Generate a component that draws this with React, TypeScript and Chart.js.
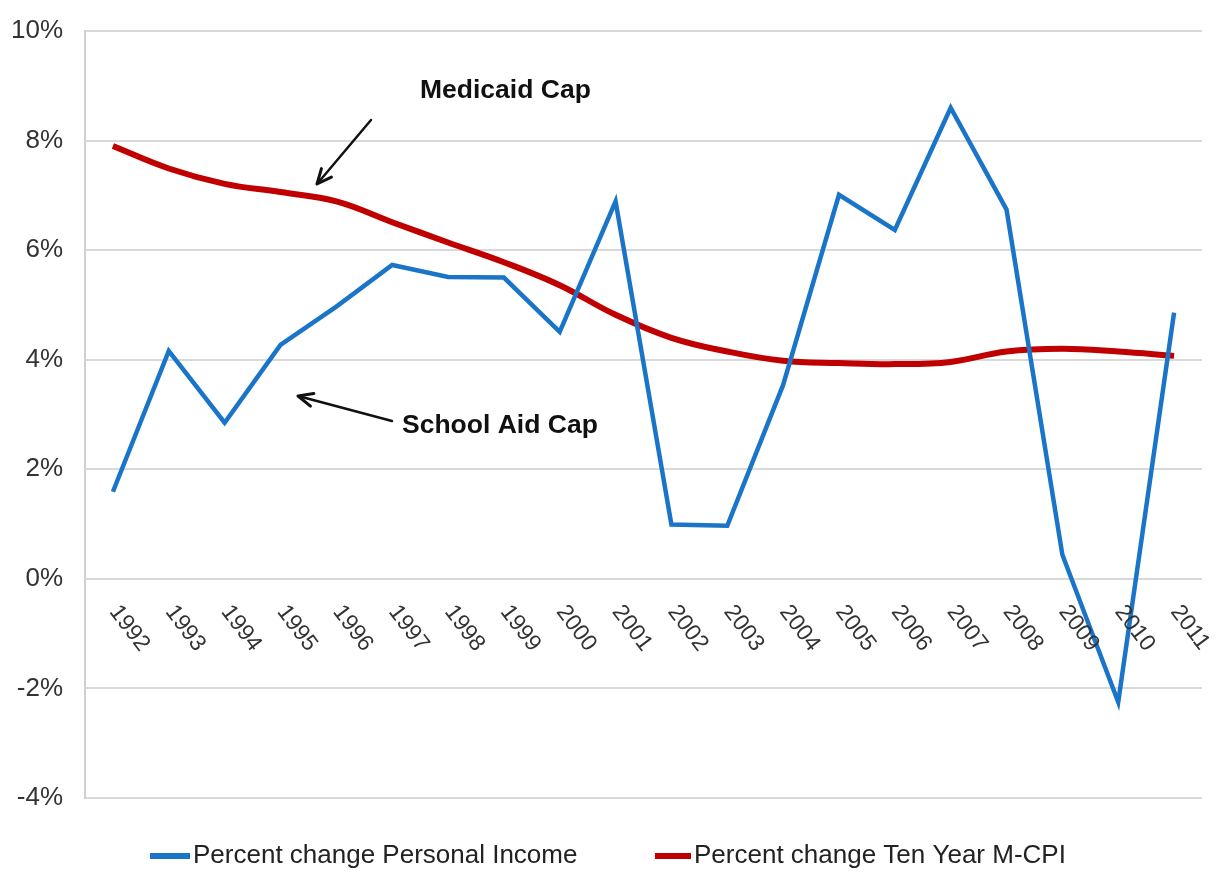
import React, { useEffect, useRef } from "react";
import { Chart, registerables } from "chart.js";

Chart.register(...registerables);

const years = ["1992","1993","1994","1995","1996","1997","1998","1999","2000","2001","2002","2003","2004","2005","2006","2007","2008","2009","2010","2011"];
const personalIncome = [1.59, 4.16, 2.85, 4.27, 4.97, 5.73, 5.51, 5.5, 4.51, 6.89, 0.99, 0.97, 3.54, 7.01, 6.37, 8.6, 6.74, 0.44, -2.25, 4.86];
const mcpi = [7.9, 7.49, 7.21, 7.06, 6.89, 6.51, 6.14, 5.78, 5.36, 4.82, 4.4, 4.15, 3.98, 3.94, 3.92, 3.96, 4.15, 4.2, 4.15, 4.07];
const yTicks = [-4, -2, 0, 2, 4, 6, 8, 10];
const seriesNames = ["Percent change Personal Income", "Percent change Ten Year M-CPI"];
const seriesColors = ["#1a75c9", "#c00000"];
const annotations = ["Medicaid Cap", "School Aid Cap"];

const FONT = "'Liberation Sans', Arial, sans-serif";

function arrow(ctx: CanvasRenderingContext2D, x1: number, y1: number, x2: number, y2: number) {
  const ang = Math.atan2(y2 - y1, x2 - x1);
  ctx.save();
  ctx.strokeStyle = "#111";
  ctx.fillStyle = "#111";
  ctx.lineWidth = 2.5;
  ctx.lineCap = "round";
  ctx.beginPath();
  ctx.moveTo(x1, y1);
  ctx.lineTo(x2 - Math.cos(ang) * 4, y2 - Math.sin(ang) * 4);
  ctx.stroke();
  const L = 16, W = 0.42;
  ctx.beginPath();
  ctx.moveTo(x2, y2);
  ctx.lineTo(x2 - L * Math.cos(ang - W), y2 - L * Math.sin(ang - W));
  ctx.moveTo(x2, y2);
  ctx.lineTo(x2 - L * Math.cos(ang + W), y2 - L * Math.sin(ang + W));
  ctx.lineWidth = 3;
  ctx.stroke();
  ctx.restore();
}

const overlay = {
  id: "overlay",
  afterDraw(chart: any) {
    const ctx: CanvasRenderingContext2D = chart.ctx;
    const xs = chart.scales.x;
    const ys = chart.scales.y;
    const y0 = ys.getPixelForValue(0);
    ctx.save();
    // x labels rotated clockwise, below zero line
    ctx.fillStyle = "#333";
    ctx.font = `23px ${FONT}`;
    ctx.textAlign = "left";
    ctx.textBaseline = "middle";
    years.forEach((yr, i) => {
      const x = xs.getPixelForValue(i);
      ctx.save();
      ctx.translate(x + 1, y0 + 29);
      ctx.rotate((53 * Math.PI) / 180);
      ctx.fillText(yr, 0, 0);
      ctx.restore();
    });
    // annotations
    ctx.font = `bold 26.5px ${FONT}`;
    ctx.fillStyle = "#111";
    ctx.fillText(annotations[0], 420, 91);
    ctx.fillText(annotations[1], 402, 426);
    arrow(ctx, 371, 120, 317, 184);
    arrow(ctx, 392, 421, 298, 396);
    // legend
    ctx.font = `26px ${FONT}`;
    ctx.fillStyle = "#222";
    const legY = 856;
    const items = [
      { x: 150, len: 40 },
      { x: 655, len: 36 },
    ];
    items.forEach((it, i) => {
      ctx.strokeStyle = seriesColors[i];
      ctx.lineWidth = 6;
      ctx.beginPath();
      ctx.moveTo(it.x, legY);
      ctx.lineTo(it.x + it.len, legY);
      ctx.stroke();
      ctx.fillText(seriesNames[i], it.x + it.len + 3, legY);
    });
    ctx.restore();
  },
};

export default function App() {
  const ref = useRef<HTMLCanvasElement>(null);
  useEffect(() => {
    if (!ref.current) return;
    const chart = new Chart(ref.current, {
      type: "line",
      data: {
        labels: years,
        datasets: [
          {
            label: seriesNames[0],
            data: personalIncome,
            borderColor: seriesColors[0],
            backgroundColor: seriesColors[0],
            borderWidth: 4.5,
            pointRadius: 0,
            tension: 0,
          },
          {
            label: seriesNames[1],
            data: mcpi,
            borderColor: seriesColors[1],
            backgroundColor: seriesColors[1],
            borderWidth: 6,
            pointRadius: 0,
            tension: 0.4,
          },
        ],
      },
      options: {
        animation: false,
        responsive: true,
        maintainAspectRatio: false,
        layout: { padding: { top: 31, bottom: 74, left: 0, right: 17 } },
        plugins: { legend: { display: false }, tooltip: { enabled: false } },
        scales: {
          x: {
            type: "category",
            offset: true,
            display: false,
          },
          y: {
            min: -4,
            max: 10,
            afterFit: (s: any) => {
              s.width = 85;
              s.paddingTop = 0;
              s.paddingBottom = 0;
            },
            afterBuildTicks: (s: any) => {
              s.ticks = yTicks.map((v) => ({ value: v }));
            },
            ticks: {
              callback: (v: any) => `${v}%`,
              color: "#333",
              font: { size: 26, family: FONT },
              padding: 22,
            },
            grid: { color: "#d9d9d9", lineWidth: 2, drawTicks: false },
            border: { display: true, color: "#d0d0d0", width: 2 },
          },
        },
      },
      plugins: [overlay],
    });
    return () => chart.destroy();
  }, []);
  return (
    <div style={{ position: "fixed", left: 0, top: 0, width: 1219, height: 872, background: "#fff" }}>
      <canvas ref={ref} />
    </div>
  );
}
